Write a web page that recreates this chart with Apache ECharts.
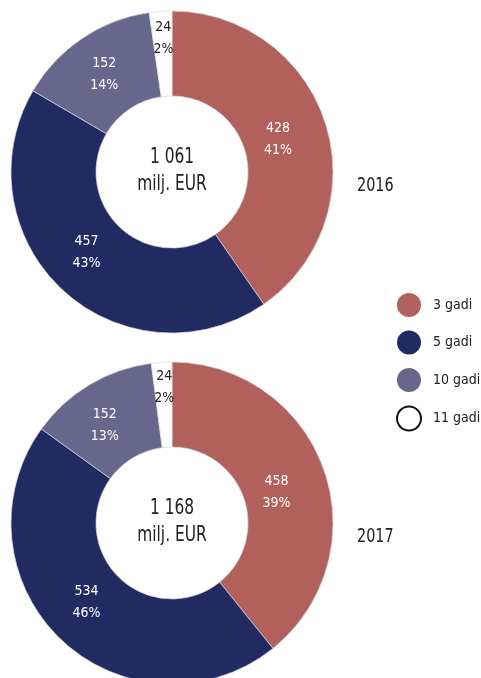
<!DOCTYPE html>
<html>
<head>
<meta charset="utf-8">
<script src="https://cdn.jsdelivr.net/npm/echarts@6/dist/echarts.min.js"></script>
<style>
  html, body { margin: 0; padding: 0; background: #fff; }
  #chart { width: 481px; height: 678px; }
</style>
</head>
<body>
<div id="chart"></div>
<script>
// data
var terms = ['3 gadi', '5 gadi', '10 gadi', '11 gadi'];
var values2016 = [428, 457, 152, 24];
var values2017 = [458, 534, 152, 24];
var pct2016 = ['41%', '43%', '14%', '2%'];
var pct2017 = ['39%', '46%', '13%', '2%'];
var totals = ['1 061', '1 168'];
var years = ['2016', '2017'];

var colors = ['#b2605c', '#222a62', '#67668d', '#ffffff'];
var FONT = '"DejaVu Sans Condensed", "Open Sans", sans-serif';

// label nudges [dx, dy] so the labels sit where the original put them
var nudge2016 = [[-10, 4], [-3, -9], [0, 3], [0, -12]];
var nudge2017 = [[-10, 10], [-2, -9], [-5, 7], [0, -14]];

var myChart = echarts.init(document.getElementById('chart'));

function makeData(values) {
    return values.map(function (v, i) {
        return {
            name: terms[i],
            value: v,
            itemStyle: { color: colors[i] },
            label: { color: i === 3 ? '#222' : '#fff' }
        };
    });
}

function makePie(values, pcts, cy, nudge) {
    return {
        type: 'pie',
        center: [172, cy],
        radius: [76, 161],
        startAngle: 90,
        clockwise: true,
        silent: true,
        animation: false,
        itemStyle: { borderColor: '#d9d9d9', borderWidth: 0.7 },
        label: {
            position: 'inside',
            fontFamily: FONT,
            fontSize: 14,
            lineHeight: 22,
            formatter: function (p) { return p.value + '\n' + pcts[p.dataIndex]; }
        },
        labelLine: { show: false },
        labelLayout: function (p) {
            var n = nudge[p.dataIndex];
            return { dx: n[0], dy: n[1] };
        },
        data: makeData(values)
    };
}

var option = {
    animation: false,
    legend: {
        orient: 'vertical',
        left: 391,
        top: 288,
        icon: 'circle',
        itemWidth: 24,
        itemHeight: 24,
        itemGap: 13.5,
        selectedMode: false,
        itemStyle: { borderWidth: 0 },
        textStyle: {
            fontFamily: FONT,
            fontSize: 14,
            color: '#222',
            padding: [0, 0, 0, 7]
        },
        data: [
            { name: terms[0] },
            { name: terms[1] },
            { name: terms[2] },
            { name: terms[3], itemStyle: { color: '#fff', borderColor: '#111', borderWidth: 2 } }
        ]
    },
    series: [
        makePie(values2016, pct2016, 172, nudge2016),
        makePie(values2017, pct2017, 523, nudge2017)
    ]
};

// centre totals and year labels (squeezed to look like the narrow original font)
var centres = [172, 523];
option.graphic = [];
centres.forEach(function (cy, i) {
    option.graphic.push({
        type: 'text',
        x: 172, y: cy - 1.5,
        scaleX: 0.78,
        style: {
            text: totals[i] + '\nmilj. EUR',
            font: '22px ' + FONT,
            fill: '#222',
            align: 'center',
            verticalAlign: 'middle',
            lineHeight: 27
        }
    });
    option.graphic.push({
        type: 'text',
        x: 357, y: cy + 14,
        scaleX: 0.8,
        style: {
            text: years[i],
            font: '20px ' + FONT,
            fill: '#222',
            align: 'left',
            verticalAlign: 'middle'
        }
    });
});

myChart.setOption(option);
</script>
</body>
</html>
